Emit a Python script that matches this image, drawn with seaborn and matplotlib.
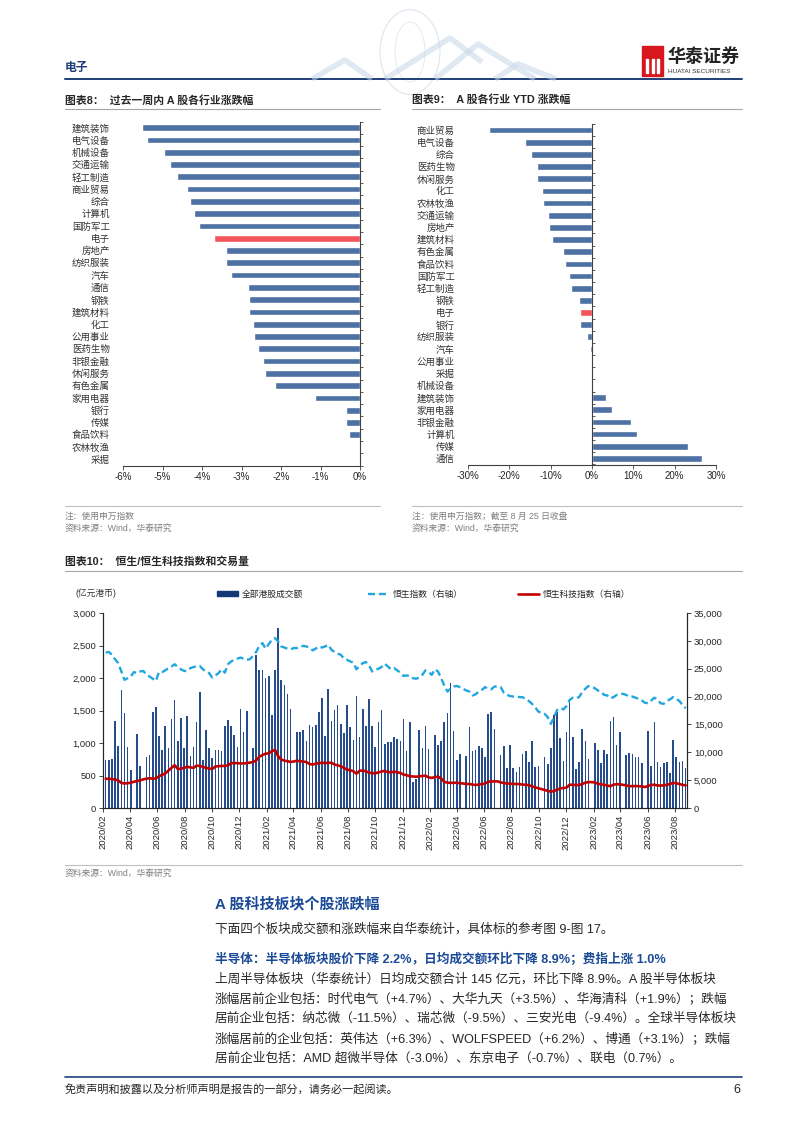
import numpy as np
import pandas as pd
import matplotlib
matplotlib.use("Agg")
import matplotlib.pyplot as plt
import matplotlib.dates as mdates
import matplotlib.ticker as mticker
from matplotlib.lines import Line2D
from matplotlib.patches import Rectangle, Circle, Ellipse
import seaborn as sns

W, H = 802, 1133

# 图表8: 过去一周内A股各行业涨跌幅 (%)
week_inds = ['建筑装饰', '电气设备', '机械设备', '交通运输', '轻工制造', '商业贸易', '综合',
             '计算机', '国防军工', '电子', '房地产', '纺织服装', '汽车', '通信', '钢铁',
             '建筑材料', '化工', '公用事业', '医药生物', '非银金融', '休闲服务', '有色金属',
             '家用电器', '银行', '传媒', '食品饮料', '农林牧渔', '采掘']
week_chg = [-5.53, -5.38, -4.96, -4.82, -4.63, -4.38, -4.31, -4.19, -4.07, -3.70, -3.40,
            -3.38, -3.27, -2.84, -2.82, -2.80, -2.70, -2.69, -2.59, -2.46, -2.41, -2.15,
            -1.13, -0.36, -0.35, -0.29, -0.02, -0.01]

# 图表9: A股各行业YTD涨跌幅 (%)
ytd_inds = ['商业贸易', '电气设备', '综合', '医药生物', '休闲服务', '化工', '农林牧渔',
            '交通运输', '房地产', '建筑材料', '有色金属', '食品饮料', '国防军工', '轻工制造',
            '钢铁', '电子', '银行', '纺织服装', '汽车', '公用事业', '采掘', '机械设备',
            '建筑装饰', '家用电器', '非银金融', '计算机', '传媒', '通信']
ytd_chg = [-25.0, -16.1, -14.8, -13.4, -13.3, -12.1, -11.8, -10.6, -10.3, -9.6, -7.0, -6.6,
           -5.5, -5.2, -3.1, -2.8, -2.8, -1.1, -0.6, -0.1, 0.0, 0.2, 3.5, 4.8, 9.4, 10.8,
           23.3, 26.7]

# 图表10: 周度数据, 2020-02-07 至 2023-08-25
first_week = '2020-02-07'
nan = np.nan
hk_turnover = [  # 亿元港币
    745, 744, 760, 1344, 959, 1820, 1462, 944, 585, nan, 1133, 646, nan, 785, 815, 1482,
    1559, 1103, 892, 1262, 918, 1369, 1667, 1036, 1379, 923, 1420, 805, 933, 1318, 1785,
    744, 1200, 918, 769, 897, 887, 882, 1256, 1349, 1267, 1128, 938, 1528, 1169, 1497, nan,
    918,
    2359, 2128, 2118, 2000, 2031, 1436, 2128, 2769, 1974, 1892, 1759, 1523, nan, 1174, 1174,
    1195, 1026, 1277, 1246, 1277, 1482, 1687, 1108, 1831, 1333, 1508, 1590, 1287, 1154, 1585,
    1241, 1051, 1718, 1092, 1528, 1267, 1677, 1256, 944, 1323, 1508, 990, 1020, 1020, 1097,
    1056, 1036, 1374,
    872, 1318, 395, 451, 1195, 928, 1262, 903, nan, 1123, 969, 1036, 1318, 1456, 1923, 1180,
    733, 825, nan, 795, 1246, 882, 897, 949, 918, 785, 1451, 1477, 1215, nan, 810, 949, 620,
    974, 620, 559, 626, 826, 882, 703, 1031, 626, 651, nan, 779, 677, 918, 1436,
    1472, 1072, 728, 1174, 1656, 1097, 605, 708, 1220, 1036, 759, nan, 1005, 897, 697, 897,
    831, 1344, 1400, 974, 1169, nan, 810, 846, 831, 779, 779, 692, nan, 1190, 651, 1328, 713,
    626, 687, 713, 538, 1041, 779, 713, 728, 615]
hsi = [
    27900, 28000, 27500, 26700, 26000, 24500, 23000, 23300, 23600, 24400, 24200, 24500,
    24600, 23900, 23600, 23200, 22800, 24400, 24400, 24700, 25100, 25400, 25800, 25300,
    24900, 24600, 24600, 25100, 25300, 25400, 25500, 24900, 24500, 24200, 23400, 23800,
    24200, 24900, 24300, 25800, 26300, 26600, 26800, 27000, 26800, 26600, 26700, 27300,
    28000, 29100, 29600, 28600, 29400, 30200, 30500, 29900, 29000, 28800, 28600, 28500,
    28700, 28700, 28900, 29100, 29000, 28800, 28300, 28600, 29000, 28800, 29000, 29300,
    28400, 28000, 27700, 27500, 26800, 26600, 26300, 26100, 24900, 25500, 26000, 26200,
    25600, 24500, 24800, 25000, 25300, 25900, 25400, 24900, 25100, 24700, 24300, 23700,
    23800, 23700, 23300, 23200, 23400, 23900, 24700, 24400, 23900, 24900, 24500, 23300,
    22000, 20900, 21400, 21800, 21900, 21700, 21400, 21100, 20900, 20200, 20400, 20900,
    21200, 21700, 21400, 21300, 21800, 21800, 21700, 20700, 20300, 20100, 20000, 20000,
    19900, 19900, 19500, 19200, 18700, 18100, 17300, 17100, 16900, 16300, 15100, 16300,
    17600, 17900, 17700, 18300, 19400, 19800, 19700, 19900, 20800, 21400, 21900, 21800,
    21500, 21100, 20800, 20300, 20200, 19700, 19900, 20300, 20400, 20500, 20300, 20000,
    20000, 19800, 19600, 19300, 18900, 18800, 19300, 19800, 19500, 18800, 18700, 19200,
    19500, 19900, 19600, 19200, 18500, 17900]
hstech = [
    5250, 5250, 5200, 5100, 4950, 4500, 4400, 4450, 4550, 4700, 4850, 4950, 5150, 5250,
    5350, 5250, 5300, 5700, 5950, 6200, 6700, 7200, 7700, 7000, 7050, 7200, 7400, 7300,
    7200, 7600, 7550, 7400, 7200, 7100, 7000, 7450, 7500, 7550, 7550, 7650, 8050, 8050,
    8050, 8000, 8000, 8050, 8150, 8250,
    8550, 9200, 9500, 9750, 9800, 10200, 10450, 9300, 8700, 8500, 8400, 8260, 8350, 8480,
    8400, 8320, 8250, 7900, 7800, 7950, 8050, 8120, 8070, 8100, 8130, 7800, 7650, 7500,
    7200, 6880, 6780, 6600, 6160, 6700, 6700, 6600, 6350, 6250, 6220, 6400, 6550, 6650,
    6450, 6400, 6520, 6400, 6300, 6000,
    5900, 5700, 5650, 5620, 5680, 5750, 5800, 5500, 5400, 5550, 5620, 5300, 4700, 4550,
    4500, 4520, 4540, 4450, 4400, 4310, 4320, 4200, 4130, 4220, 4300, 4380, 4720, 4760,
    4780, 4780, 4600, 4480, 4400, 4350, 4310, 4310, 4280, 4200, 4160, 4100, 3880, 3700,
    3550, 3400, 3250, 3100, 2930, 3050,
    3300, 3500, 3600, 3650, 4200, 4150, 4130, 4130, 4300, 4550, 4650, 4650, 4580, 4350,
    4250, 4150, 4050, 3900, 4200, 4250, 4250, 4150, 4070, 3920, 3920, 3950, 3900, 3870,
    3770, 3950, 4130, 4180, 4050, 4010, 4070, 4150, 4310, 4500, 4450, 4310, 4150, 4070]

body_lines = [
    '上周半导体板块（华泰统计）日均成交额合计 145 亿元，环比下降 8.9%。A 股半导体板块',
    '涨幅居前企业包括：时代电气（+4.7%）、大华九天（+3.5%）、华海清科（+1.9%）；跌幅',
    '居前企业包括：纳芯微（-11.5%）、瑞芯微（-9.5%）、三安光电（-9.4%）。全球半导体板块',
    '涨幅居前的企业包括：英伟达（+6.3%）、WOLFSPEED（+6.2%）、博通（+3.1%）；跌幅',
    '居前企业包括：AMD 超微半导体（-3.0%）、东京电子（-0.7%）、联电（0.7%）。',
]

sns.set_style('white')
plt.rcParams['font.family'] = ['Liberation Sans', 'Noto Sans CJK SC']
plt.rcParams['axes.unicode_minus'] = False

NAVY = '#1F3F7A'
BAR_BLUE = '#4E71A4'
RED_BAR = '#F2555A'
GRAY_LINE = '#A6A6A6'
NOTE = '#7F7F7F'


def fx(x):
    return x / W


def fy(y):
    return 1 - y / H


def box(l, t, r, b):
    return [fx(l), fy(b), (r - l) / W, (b - t) / H]


def hline(fig, x0, x1, y, color, lw):
    fig.add_artist(Line2D([fx(x0), fx(x1)], [fy(y), fy(y)], transform=fig.transFigure,
                          color=color, lw=lw))


fig = plt.figure(figsize=(W / 100, H / 100), dpi=100)

# ---- page header ----
fig.text(fx(65), fy(68), '电子', fontsize=8.5, color=NAVY, va='center', fontweight='bold')
hline(fig, 65, 742, 79, NAVY, 1.4)
deco = '#D9E2EC'
fig.add_artist(Circle((fx(410), fy(52)), 30 / W, transform=fig.transFigure, fill=False,
                      ec=deco, lw=0.7))
fig.add_artist(Ellipse((fx(410), fy(52)), 30 / W, 60 / H, transform=fig.transFigure,
                       fill=False, ec=deco, lw=0.5))
for pts in [[(312, 79), (345, 60), (372, 79)], [(385, 79), (450, 38), (482, 62)],
            [(435, 79), (478, 44), (535, 79)], [(495, 79), (518, 64), (556, 79)]]:
    fig.add_artist(Line2D([fx(p[0]) for p in pts], [fy(p[1]) for p in pts],
                          transform=fig.transFigure, color='#C7D7E8', lw=4, alpha=0.55,
                          solid_capstyle='butt'))
fig.add_artist(Rectangle((fx(642), fy(76)), 21 / W, 30 / H, transform=fig.transFigure,
                         color='#D7161E'))
for xx in (647, 652.5, 658):
    fig.add_artist(Rectangle((fx(xx - 1), fy(73)), 2 / W, 14 / H, transform=fig.transFigure,
                             color='white'))
fig.text(fx(667), fy(57), '华泰证券', fontsize=13, fontweight='bold', va='center',
         color='#222222')
fig.text(fx(668), fy(71.5), 'HUATAI SECURITIES', fontsize=4.6, va='center', color='#333333')

# ---- chart titles ----
fig.text(fx(65), fy(100), '图表8：  过去一周内 A 股各行业涨跌幅', fontsize=7.8,
         fontweight='bold', va='center')
fig.text(fx(412), fy(100), '图表9：  A 股各行业 YTD 涨跌幅', fontsize=7.8,
         fontweight='bold', va='center')
hline(fig, 65, 380, 109, GRAY_LINE, 0.8)
hline(fig, 412, 742, 109, GRAY_LINE, 0.8)


def industry_bars(ax, cats, vals, lo, hi, step):
    colors = [RED_BAR if c == '电子' else BAR_BLUE for c in cats]
    sns.barplot(x=vals, y=cats, hue=cats, palette=colors, orient='h', ax=ax, width=0.55,
                saturation=1, legend=False)
    n = len(cats)
    ax.set_xlim(lo, hi)
    ax.set_ylim(n - 0.5, -0.5)
    ax.set_xticks(np.arange(lo, hi + step / 2, step))
    ax.xaxis.set_major_formatter(mticker.FuncFormatter(lambda v, p: f'{int(round(v))}%'))
    ax.set_yticks(np.arange(-0.5, n, 1), minor=True)
    for s in ('top', 'left'):
        ax.spines[s].set_visible(False)
    ax.spines['right'].set_position(('data', 0))
    ax.spines['right'].set_color('#404040')
    ax.spines['bottom'].set_color('#404040')
    ax.spines['right'].set_linewidth(0.8)
    ax.spines['bottom'].set_linewidth(0.8)
    ax.tick_params(axis='y', which='major', left=False, right=False, labelsize=6.8,
                   labelcolor='#333333', pad=6)
    ax.tick_params(axis='y', which='minor', left=False, right=True, length=2.2, width=0.6,
                   color='#404040')
    ax.tick_params(axis='x', bottom=True, length=3, width=0.6, labelsize=7, pad=2,
                   color='#404040')
    ax.set_xlabel('')
    ax.set_ylabel('')


ax8 = fig.add_axes(box(123, 121.5, 360, 465.5))
industry_bars(ax8, week_inds, week_chg, -6, 0, 1)
ax9 = fig.add_axes(box(468, 124, 716, 464.5))
industry_bars(ax9, ytd_inds, ytd_chg, -30, 30, 10)

hline(fig, 65, 380, 506, '#BFBFBF', 0.8)
hline(fig, 412, 742, 506, '#BFBFBF', 0.8)
fig.text(fx(65), fy(516), '注：使用申万指数', fontsize=6.3, color=NOTE, va='center')
fig.text(fx(65), fy(528), '资料来源：Wind，华泰研究', fontsize=6.3, color=NOTE, va='center')
fig.text(fx(412), fy(516), '注：使用申万指数；截至 8 月 25 日收盘', fontsize=6.3, color=NOTE,
         va='center')
fig.text(fx(412), fy(528), '资料来源：Wind，华泰研究', fontsize=6.3, color=NOTE, va='center')

# ---- chart 10 ----
fig.text(fx(65), fy(562), '图表10：  恒生/恒生科技指数和交易量', fontsize=7.8,
         fontweight='bold', va='center')
hline(fig, 65, 742, 571, GRAY_LINE, 0.8)

dates = pd.date_range(first_week, periods=len(hk_turnover), freq='7D')
df = pd.DataFrame({'date': dates, 'turnover': hk_turnover, 'hsi': hsi, 'hstech': hstech})

BAR_NAVY = '#274C8B'
HSI_C = '#21A7DF'
TECH_C = '#C00000'

ax10 = fig.add_axes(box(103, 613, 687, 808))
ax10.bar(df['date'], df['turnover'], width=3.6, color=BAR_NAVY, linewidth=0)
ax10.set_ylim(0, 3000)
ax10.set_yticks(range(0, 3001, 500))
ax10.yaxis.set_major_formatter(mticker.StrMethodFormatter('{x:,.0f}'))
ax10.set_xlim(pd.Timestamp('2020-02-01'), pd.Timestamp('2023-08-28'))

ax11 = ax10.twinx()
sns.lineplot(data=df, x='date', y='hsi', ax=ax11, color=HSI_C, lw=1.7,
             linestyle=(0, (3, 1.6)))
sns.lineplot(data=df, x='date', y='hstech', ax=ax11, color=TECH_C, lw=1.9)
ax11.set_ylim(0, 35000)
ax11.set_yticks(range(0, 35001, 5000))
ax11.yaxis.set_major_formatter(mticker.StrMethodFormatter('{x:,.0f}'))
ax11.set_xlim(pd.Timestamp('2020-02-01'), pd.Timestamp('2023-08-28'))
ax11.set_xlabel('')
ax11.set_ylabel('')

ax10.xaxis.set_major_locator(mdates.MonthLocator(bymonth=[2, 4, 6, 8, 10, 12]))
ax10.xaxis.set_major_formatter(mdates.DateFormatter('%Y/%m'))
for a in (ax10, ax11):
    a.spines['top'].set_visible(False)
    for s in ('left', 'right', 'bottom'):
        a.spines[s].set_color('#262626')
        a.spines[s].set_linewidth(0.8)
ax10.tick_params(axis='x', bottom=True, length=3, width=0.6, labelsize=6.8, rotation=90,
                 pad=2)
ax10.tick_params(axis='y', left=True, length=3, width=0.6, labelsize=6.8, pad=2)
ax11.tick_params(axis='y', right=True, length=3, width=0.6, labelsize=6.8, pad=2)
ax10.set_xlabel('')
ax10.set_ylabel('')

fig.text(fx(75), fy(593), '(亿元港币)', fontsize=6.3, color='#333333', va='center')
leg_items = [
    (Rectangle((0, 0), 1, 1, color='#123A78'), '全部港股成交额', 217),
    (Line2D([], [], color=HSI_C, lw=1.7, linestyle=(0, (3, 1.6))), '恒生指数（右轴）', 368),
    (Line2D([], [], color=TECH_C, lw=1.9), '恒生科技指数（右轴）', 518),
]
for handle, label, xpos in leg_items:
    fig.legend(handles=[handle], labels=[label], loc='center left',
               bbox_to_anchor=(fx(xpos), fy(594)), frameon=False, fontsize=6.3,
               handlelength=2.4, handleheight=0.55, handletextpad=0.4,
               borderaxespad=0, borderpad=0)

hline(fig, 65, 742, 865, '#BFBFBF', 0.8)
fig.text(fx(65), fy(873), '资料来源：Wind，华泰研究', fontsize=6.3, color=NOTE, va='center')

# ---- text section ----
BLUE_TXT = '#1B4A97'
fig.text(fx(215), fy(904), 'A 股科技板块个股涨跌幅', fontsize=10.8, fontweight='bold',
         color=BLUE_TXT, va='center')
fig.text(fx(215), fy(929), '下面四个板块成交额和涨跌幅来自华泰统计，具体标的参考图 9-图 17。',
         fontsize=9.1, va='center')
fig.text(fx(215), fy(959),
         '半导体：半导体板块股价下降 2.2%，日均成交额环比下降 8.9%；费指上涨 1.0%',
         fontsize=9.1, fontweight='bold', color=BLUE_TXT, va='center')
for i, line in enumerate(body_lines):
    fig.text(fx(215), fy(979 + 20 * i), line, fontsize=9.1, va='center')

hline(fig, 65, 742, 1077, NAVY, 1.2)
fig.text(fx(65), fy(1090), '免责声明和披露以及分析师声明是报告的一部分，请务必一起阅读。',
         fontsize=8, style='italic', va='center')
fig.text(fx(740), fy(1090), '6', fontsize=9, ha='right', va='center')

fig.savefig('out.png', dpi=100)
